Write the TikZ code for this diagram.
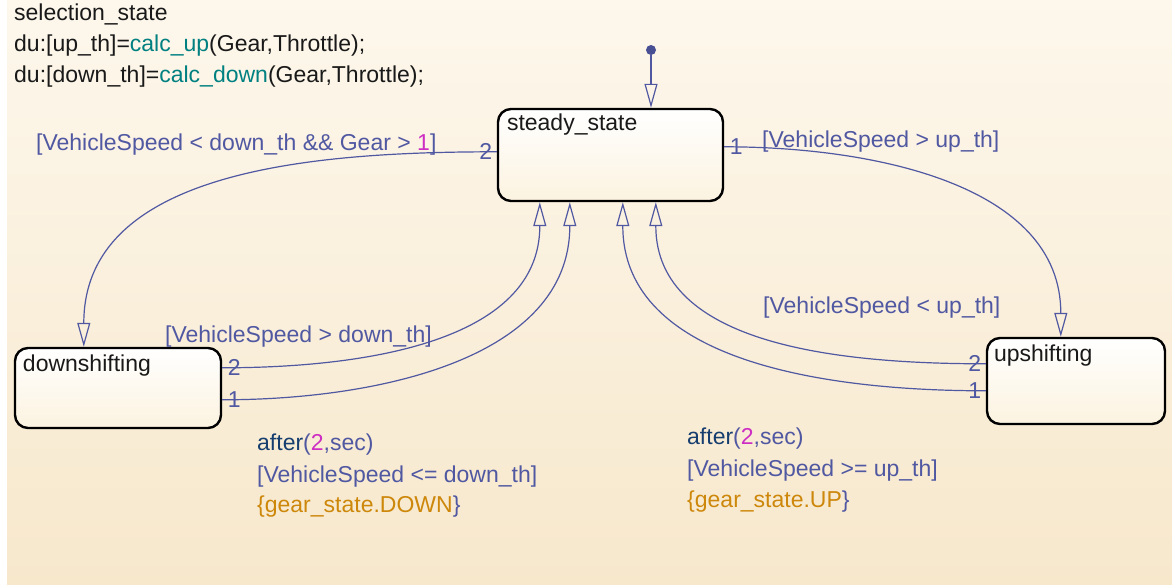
\documentclass[tikz,border=0pt]{standalone}
\usepackage{fontspec}
\setmainfont{Liberation Sans}
\usetikzlibrary{arrows.meta,positioning,calc}
\definecolor{bgtop}{RGB}{253,247,236}
\definecolor{bgbot}{RGB}{247,232,204}
\definecolor{boxbot}{RGB}{252,243,224}
\definecolor{trans}{RGB}{80,88,162}
\definecolor{fncol}{RGB}{0,128,128}
\definecolor{numcol}{RGB}{205,45,195}
\definecolor{kwcol}{RGB}{22,62,110}
\definecolor{actcol}{RGB}{205,135,10}
\newcommand{\calcfn}[1]{\textcolor{fncol}{#1}}
\newcommand{\litnum}[1]{\textcolor{numcol}{#1}}
\newcommand{\kwafter}[1]{\textcolor{kwcol}{#1}}
\newcommand{\actcode}[1]{\textcolor{actcol}{#1}}
\tikzset{
    state/.style={rectangle, rounded corners=13pt, draw=black, line width=2.4pt, top color=white, bottom color=boxbot},
    stname/.style={font=\fontsize{23}{31}\selectfont, anchor=base west, inner sep=0pt, text=black!90},
    guard/.style={font=\fontsize{23}{31}\selectfont, anchor=base west, inner sep=0pt, text=trans},
    exord/.style={font=\fontsize{23}{31}\selectfont, inner sep=0pt, text=trans},
    trarrow/.style={draw=trans, line width=1.2pt, -{Triangle[open,length=24pt,width=13pt]}}
}
\begin{document}
\begin{tikzpicture}[x=1pt,y=-1pt]

\useasboundingbox (0,0) rectangle (1172,585);
\fill[white] (0,0) rectangle (1172,585);
\fill[top color=bgtop, bottom color=bgbot] (7,0) rectangle (1172,585);

% ----------------------------
% Chart header
% ----------------------------
\node[stname] (hdr1) at (14,21) {selection\_state};
\node[stname] (hdr2) at (14,52) {du:[up\_th]=\calcfn{calc\_up}(Gear,Throttle);};
\node[stname] (hdr3) at (14,83) {du:[down\_th]=\calcfn{calc\_down}(Gear,Throttle);};

% ----------------------------
% States
% ----------------------------
\node[state, minimum width=225pt, minimum height=92pt] (steady) at (610.5,155) {};
\node[state, minimum width=206pt, minimum height=80pt] (down) at (118,388) {};
\node[state, minimum width=178pt, minimum height=86pt] (up) at (1076,381) {};

\node[stname] (steadylbl) at ([xshift=10pt,yshift=-23pt]steady.north west) {steady\_state};
\node[stname] (downlbl) at ([xshift=9pt,yshift=-25pt]down.north west) {downshifting};
\node[stname] (uplbl) at ([xshift=8pt,yshift=-25pt]up.north west) {upshifting};

% ----------------------------
% Default transition
% ----------------------------
\node[circle, fill=trans!90!black, inner sep=0pt, minimum size=10pt] (init) at (651,50) {};
\draw[trarrow] (init) -- (init |- steady.north);

% ----------------------------
% Transitions out of steady_state
% ----------------------------
\draw[trarrow] ([yshift=-44pt]steady.north west) node[exord, anchor=east, xshift=-4pt] {2}
  to[out=180, in=90] ([xshift=70pt]down.north west);
\draw[trarrow] ([yshift=-39pt]steady.north east) node[exord, anchor=west, xshift=5pt] {1}
  to[out=0, in=90] ([xshift=75pt]up.north west);

% ----------------------------
% Transitions back to steady_state
% ----------------------------
\draw[trarrow] ([yshift=-21pt]down.north east) node[exord, anchor=west, xshift=5pt] {2}
  to[out=0, in=-90] ([xshift=43pt]steady.south west);
\draw[trarrow] ([yshift=-53pt]down.north east) node[exord, anchor=west, xshift=5pt] {1}
  to[out=0, in=-90] ([xshift=73pt]steady.south west);
\draw[trarrow] ([yshift=-27pt]up.north west) node[exord, anchor=east, xshift=-4pt] {2}
  to[out=180, in=-90] ([xshift=159pt]steady.south west);
\draw[trarrow] ([yshift=-54pt]up.north west) node[exord, anchor=east, xshift=-4pt] {1}
  to[out=180, in=-90] ([xshift=126pt]steady.south west);

% ----------------------------
% Transition labels
% ----------------------------
\node[guard] (g_down) at (36,151) {[VehicleSpeed < down\_th \&\& Gear > \litnum{1}]};
\node[guard] (g_up) at (762,148) {[VehicleSpeed > up\_th]};
\node[guard] (g_back_down) at (165,342) {[VehicleSpeed > down\_th]};
\node[guard] (g_back_up) at (763,313) {[VehicleSpeed < up\_th]};

\node[guard] (dn_after) at (257,450) {\kwafter{after}(\litnum{2},sec)};
\node[guard] (dn_guard) at (257,482) {[VehicleSpeed <= down\_th]};
\node[guard] (dn_act) at (257,512) {\actcode{\{gear\_state.DOWN}\}};

\node[guard] (up_after) at (687,444) {\kwafter{after}(\litnum{2},sec)};
\node[guard] (up_guard) at (687,476) {[VehicleSpeed >= up\_th]};
\node[guard] (up_act) at (687,507) {\actcode{\{gear\_state.UP}\}};

\end{tikzpicture}
\end{document}
